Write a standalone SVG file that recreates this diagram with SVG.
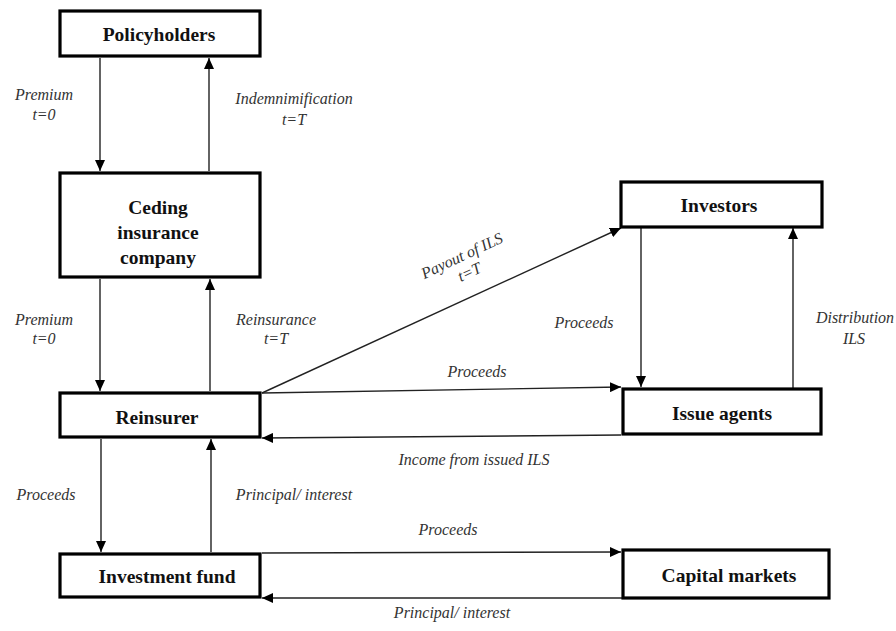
<svg xmlns="http://www.w3.org/2000/svg" width="896" height="631" viewBox="0 0 896 631" font-family="Liberation Serif, DejaVu Serif, serif">
<style>
.box{fill:#fff;stroke:#000;stroke-width:3.2}
.nt{font-weight:bold;font-size:19.5px;fill:#111;text-anchor:middle}
.lb{font-style:italic;font-size:16px;fill:#333;text-anchor:middle}
.cn{stroke:#222;stroke-width:1.4;fill:none;marker-end:url(#ah)}
</style>
<defs>
<marker id="ah" markerUnits="userSpaceOnUse" markerWidth="12" markerHeight="10" refX="11" refY="5" orient="auto">
<path d="M0,0 L11,5 L0,10 z" fill="#000"/>
</marker>
</defs>
<rect width="896" height="631" fill="#fff"/>
<g id="connectors">
<line class="cn" x1="100" y1="58" x2="100" y2="171"/>
<line class="cn" x1="209" y1="171" x2="209" y2="58"/>
<line class="cn" x1="100" y1="279" x2="100" y2="391"/>
<line class="cn" x1="210" y1="391" x2="210" y2="279"/>
<line class="cn" x1="101" y1="439" x2="101" y2="552"/>
<line class="cn" x1="211" y1="552" x2="211" y2="439"/>
<line class="cn" x1="262" y1="393" x2="621" y2="228"/>
<line class="cn" x1="262" y1="393" x2="621" y2="387"/>
<line class="cn" x1="621" y1="435" x2="262" y2="438"/>
<line class="cn" x1="641" y1="228" x2="641" y2="387"/>
<line class="cn" x1="793" y1="388" x2="793" y2="228"/>
<line class="cn" x1="262" y1="553" x2="621" y2="552"/>
<line class="cn" x1="622" y1="598" x2="262" y2="598"/>
</g>
<g id="labels" font-family="Liberation Serif, serif">
<text class="lb" x="44" y="100">Premium</text>
<text class="lb" x="44" y="120">t=0</text>
<text class="lb" x="294" y="104">Indemnimification</text>
<text class="lb" x="294" y="125">t=T</text>
<text class="lb" x="44" y="325">Premium</text>
<text class="lb" x="44" y="344">t=0</text>
<text class="lb" x="276" y="325">Reinsurance</text>
<text class="lb" x="276" y="344">t=T</text>
<text class="lb" x="46" y="500">Proceeds</text>
<text class="lb" x="294" y="500">Principal/ interest</text>
<g transform="translate(462,256) rotate(-25)">
<text class="lb" x="0" y="5">Payout of ILS</text>
<text class="lb" x="0" y="23">t=T</text>
</g>
<text class="lb" x="477" y="377">Proceeds</text>
<text class="lb" x="474" y="465">Income from issued ILS</text>
<text class="lb" x="584" y="328">Proceeds</text>
<text class="lb" x="855" y="323">Distribution</text>
<text class="lb" x="854" y="344">ILS</text>
<text class="lb" x="448" y="535">Proceeds</text>
<text class="lb" x="452" y="618">Principal/ interest</text>
</g>
<g id="policyholders">
<rect class="box" x="60" y="11" width="200" height="45"/>
<text class="nt" x="159" y="41">Policyholders</text>
</g>
<g id="ceding">
<rect class="box" x="60" y="173" width="200" height="104"/>
<text class="nt" x="158" y="214">Ceding</text>
<text class="nt" x="158" y="239">insurance</text>
<text class="nt" x="158" y="264">company</text>
</g>
<g id="reinsurer">
<rect class="box" x="60" y="393" width="200" height="44"/>
<text class="nt" x="157" y="424">Reinsurer</text>
</g>
<g id="investment-fund">
<rect class="box" x="60" y="554" width="200" height="43"/>
<text class="nt" x="167" y="583">Investment fund</text>
</g>
<g id="investors">
<rect class="box" x="621" y="182" width="201" height="45"/>
<text class="nt" x="719" y="212">Investors</text>
</g>
<g id="issue-agents">
<rect class="box" x="623" y="389" width="198" height="45"/>
<text class="nt" x="722" y="420">Issue agents</text>
</g>
<g id="capital-markets">
<rect class="box" x="623" y="550" width="206" height="48"/>
<text class="nt" x="729" y="582">Capital markets</text>
</g>
</svg>
